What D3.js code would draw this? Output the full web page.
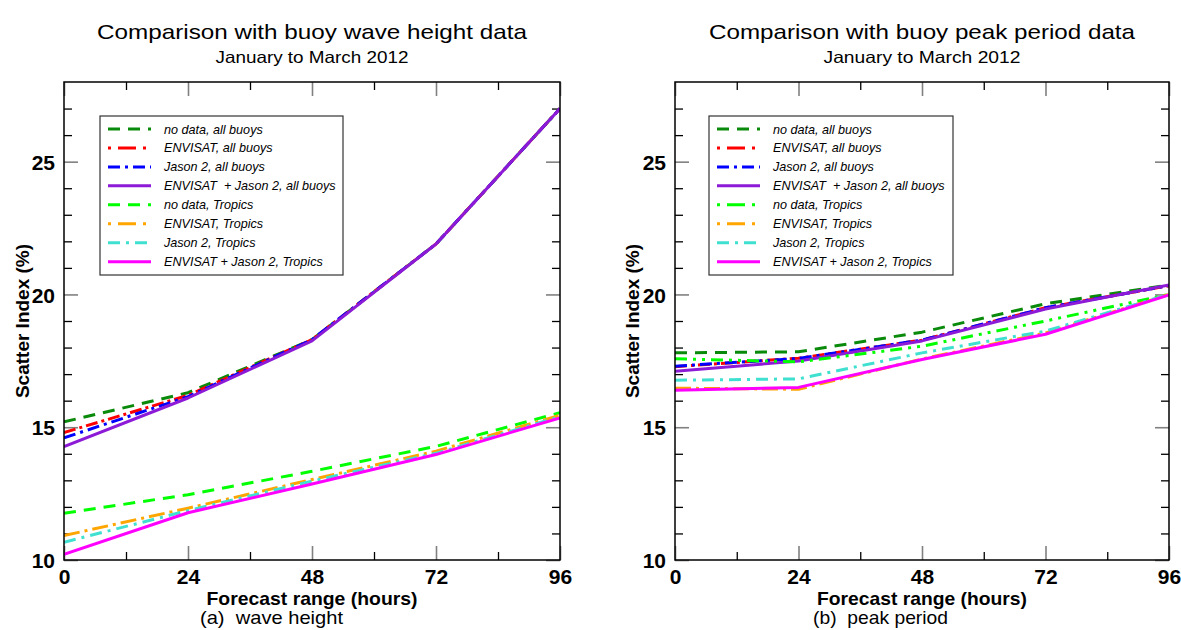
<!DOCTYPE html>
<html>
<head>
<meta charset="utf-8">
<script src="https://cdn.jsdelivr.net/npm/d3@7"></script>
<style>
  html, body { margin: 0; padding: 0; background: #fff; }
  svg { display: block; }
  text { font-family: "Liberation Sans", Arial, sans-serif; }
</style>
</head>
<body>
<svg id="chart" width="1181" height="630"></svg>
<script>
// ---------- data ----------
const hours = [0, 24, 48, 72, 96];
const xTickValues = [0, 24, 48, 72, 96];
const xMinorTicks = [12, 36, 60, 84];
const yTickValues = [10, 15, 20, 25];
const yMinorTicks = [11, 12, 13, 14, 16, 17, 18, 19, 21, 22, 23, 24, 26, 27];

const seriesLabels = [
  "no data, all buoys",
  "ENVISAT, all buoys",
  "Jason 2, all buoys",
  "ENVISAT  + Jason 2, all buoys",
  "no data, Tropics",
  "ENVISAT, Tropics",
  "Jason 2, Tropics",
  "ENVISAT + Jason 2, Tropics"
];

// (a) wave height scatter index (%)
const whNoDataAll    = [15.2, 16.3, 18.3, 21.9, 27.0];
const whEnvisatAll   = [14.8, 16.2, 18.3, 21.9, 27.0];
const whJasonAll     = [14.6, 16.15, 18.3, 21.9, 27.0];
const whCombinedAll  = [14.27, 16.1, 18.25, 21.9, 27.0];
const whNoDataTrop   = [11.76, 12.46, 13.34, 14.28, 15.55];
const whEnvisatTrop  = [10.92, 11.95, 13.03, 14.1, 15.45];
const whJasonTrop    = [10.67, 11.86, 12.97, 14.02, 15.4];
const whCombinedTrop = [10.21, 11.78, 12.86, 13.97, 15.35];

// (b) peak period scatter index (%)
const ppNoDataAll    = [17.8, 17.84, 18.58, 19.65, 20.36];
const ppEnvisatAll   = [17.28, 17.6, 18.28, 19.5, 20.33];
const ppJasonAll     = [17.3, 17.59, 18.28, 19.5, 20.33];
const ppCombinedAll  = [17.11, 17.49, 18.25, 19.45, 20.36];
const ppNoDataTrop   = [17.58, 17.46, 18.05, 19.0, 20.0];
const ppEnvisatTrop  = [16.47, 16.43, 17.57, 18.55, 20.0];
const ppJasonTrop    = [16.77, 16.82, 17.8, 18.62, 20.0];
const ppCombinedTrop = [16.39, 16.5, 17.55, 18.5, 19.98];

const titlesMain = ["Comparison with buoy wave height data", "Comparison with buoy peak period data"];
const titlesSub = ["January to March 2012", "January to March 2012"];
const captions = ["(a)  wave height", "(b)  peak period"];
const xAxisTitle = "Forecast range (hours)";
const yAxisTitle = "Scatter Index (%)";

// ---------- styles ----------
const colors = ["#0a8a0a", "#ff0000", "#0000ff", "#8c1ad6", "#00ff00", "#ffa500", "#40e0d0", "#ff00ff"];
const dashesA = ["12,8", "12,4,3,4", "12,5,3,5", null, "12,8", "16,5,3,5", "12,6,3,6", null];
const dashesB = ["12,8", "12,4,3,4", "12,5,3,5", null, "12,6,3,6,3,6", "16,5,3,5", "12,6,3,6", null];
const legendDashes = ["12,8", "3,7,18,7", "12,5,3,5", null, "12,8", "3,7,18,7", "12,6,3,6", null];
const legendDashesB = ["12,8", "3,7,18,7", "12,5,3,5", null, "3,7,18,7", "3,7,18,7", "12,6,3,6", null];

const svg = d3.select("#chart");

const panels = [
  { x0: 64, x1: 560, series: [whNoDataAll, whEnvisatAll, whJasonAll, whCombinedAll, whNoDataTrop, whEnvisatTrop, whJasonTrop, whCombinedTrop],
    dashes: dashesA, legDashes: legendDashes, legend: { x: 100, w: 243 },
    titleW: 430, subW: 193, xlabW: 211, capX: 200, capW: 143, ylabX: 23 },
  { x0: 675, x1: 1169, series: [ppNoDataAll, ppEnvisatAll, ppJasonAll, ppCombinedAll, ppNoDataTrop, ppEnvisatTrop, ppJasonTrop, ppCombinedTrop],
    dashes: dashesB, legDashes: legendDashesB, legend: { x: 709, w: 244 },
    titleW: 426, subW: 197, xlabW: 210, capX: 813, capW: 135, ylabX: 633 }
];

const plotTop = 82, plotBottom = 560;

panels.forEach((p, pi) => {
  const x = d3.scaleLinear().domain([0, 96]).range([p.x0, p.x1]);
  const y = d3.scaleLinear().domain([10, 28]).range([plotBottom, plotTop]);
  const g = svg.append("g");
  const cx = (p.x0 + p.x1) / 2;

  // titles
  g.append("text").attr("x", cx).attr("y", 39).attr("text-anchor", "middle")
    .attr("font-size", 21).attr("textLength", p.titleW).attr("lengthAdjust", "spacingAndGlyphs")
    .text(titlesMain[pi]);
  g.append("text").attr("x", cx).attr("y", 63).attr("text-anchor", "middle")
    .attr("font-size", 16.5).attr("textLength", p.subW).attr("lengthAdjust", "spacingAndGlyphs")
    .text(titlesSub[pi]);

  // clip
  const clipId = "clip" + pi;
  svg.append("clipPath").attr("id", clipId).append("rect")
    .attr("x", p.x0).attr("y", plotTop).attr("width", p.x1 - p.x0).attr("height", plotBottom - plotTop);

  // axes (ticks inward on all sides)
  const majLen = 14, minLen = 8;
  const axB = g.append("g").attr("transform", `translate(0,${plotBottom})`)
    .call(d3.axisTop(x).tickValues(xTickValues).tickSize(majLen).tickFormat(""));
  const axBm = g.append("g").attr("transform", `translate(0,${plotBottom})`)
    .call(d3.axisTop(x).tickValues(xMinorTicks).tickSize(minLen).tickFormat(""));
  const axT = g.append("g").attr("transform", `translate(0,${plotTop})`)
    .call(d3.axisBottom(x).tickValues(xTickValues).tickSize(majLen).tickFormat(""));
  const axTm = g.append("g").attr("transform", `translate(0,${plotTop})`)
    .call(d3.axisBottom(x).tickValues(xMinorTicks).tickSize(minLen).tickFormat(""));
  const axL = g.append("g").attr("transform", `translate(${p.x0},0)`)
    .call(d3.axisRight(y).tickValues(yTickValues).tickSize(majLen).tickFormat(""));
  const axLm = g.append("g").attr("transform", `translate(${p.x0},0)`)
    .call(d3.axisRight(y).tickValues(yMinorTicks).tickSize(minLen).tickFormat(""));
  const axR = g.append("g").attr("transform", `translate(${p.x1},0)`)
    .call(d3.axisLeft(y).tickValues(yTickValues).tickSize(majLen).tickFormat(""));
  const axRm = g.append("g").attr("transform", `translate(${p.x1},0)`)
    .call(d3.axisLeft(y).tickValues(yMinorTicks).tickSize(minLen).tickFormat(""));
  [axB, axT, axL, axR].forEach(a => { a.select(".domain").remove(); a.selectAll(".tick line").attr("stroke", "#808080").attr("stroke-width", 1.6); });
  [axBm, axTm, axLm, axRm].forEach(a => { a.select(".domain").remove(); a.selectAll(".tick line").attr("stroke", "#000").attr("stroke-width", 1.3); });

  // tick labels
  const xl = g.append("g").attr("transform", `translate(0,${plotBottom})`)
    .call(d3.axisBottom(x).tickValues(xTickValues).tickSize(0).tickPadding(0).tickFormat(d3.format("d")));
  xl.select(".domain").remove();
  xl.selectAll("text").attr("font-family", "Liberation Sans, Arial, sans-serif").attr("font-weight", "bold")
    .attr("font-size", 21).attr("fill", "#000").attr("dy", null).attr("y", 24);
  const yl = g.append("g").attr("transform", `translate(${p.x0},0)`)
    .call(d3.axisLeft(y).tickValues(yTickValues).tickSize(0).tickPadding(9).tickFormat(d3.format("d")));
  yl.select(".domain").remove();
  yl.selectAll("text").attr("font-family", "Liberation Sans, Arial, sans-serif").attr("font-weight", "bold")
    .attr("font-size", 21).attr("fill", "#000").attr("dy", "0.36em");

  // axis titles
  g.append("text").attr("x", cx).attr("y", 605).attr("text-anchor", "middle")
    .attr("font-size", 18.5).attr("font-weight", "bold")
    .attr("textLength", p.xlabW).attr("lengthAdjust", "spacingAndGlyphs").text(xAxisTitle);
  g.append("text").attr("transform", `translate(${p.ylabX + 6},${321}) rotate(-90)`)
    .attr("text-anchor", "middle").attr("font-size", 19).attr("font-weight", "bold")
    .text(yAxisTitle);
  g.append("text").attr("x", p.capX).attr("y", 624)
    .attr("font-family", "Liberation Serif, Times New Roman, serif").attr("font-size", 19)
    .attr("textLength", p.capW).attr("lengthAdjust", "spacingAndGlyphs")
    .attr("xml:space", "preserve").style("white-space", "pre").text(captions[pi]);

  // lines
  const line = d3.line().x((d, i) => x(hours[i])).y(d => y(d));
  const lg = g.append("g").attr("clip-path", `url(#${clipId})`);
  p.series.forEach((vals, si) => {
    lg.append("path").datum(vals).attr("d", line)
      .attr("fill", "none").attr("stroke", colors[si]).attr("stroke-width", 3)
      .attr("stroke-dasharray", p.dashes[si]).attr("stroke-linejoin", "round");
  });

  // frame
  g.append("rect").attr("x", p.x0).attr("y", plotTop).attr("width", p.x1 - p.x0).attr("height", plotBottom - plotTop)
    .attr("fill", "none").attr("stroke", "#000").attr("stroke-width", 1.5);

  // legend
  const L = p.legend;
  const leg = g.append("g");
  leg.append("rect").attr("x", L.x).attr("y", 116).attr("width", L.w).attr("height", 159)
    .attr("fill", "#fff").attr("stroke", "#333").attr("stroke-width", 1.2);
  seriesLabels.forEach((lab, i) => {
    const ry = 129 + i * 18.95;
    leg.append("line").attr("x1", L.x + 8).attr("x2", L.x + 51).attr("y1", ry).attr("y2", ry)
      .attr("stroke", colors[i]).attr("stroke-width", 3).attr("stroke-dasharray", p.legDashes[i]);
    leg.append("text").attr("x", L.x + 64).attr("y", ry + 4.5)
      .attr("font-size", 12.6).attr("font-style", "italic")
      .attr("xml:space", "preserve").style("white-space", "pre").text(lab);
  });
});
</script>
</body>
</html>
